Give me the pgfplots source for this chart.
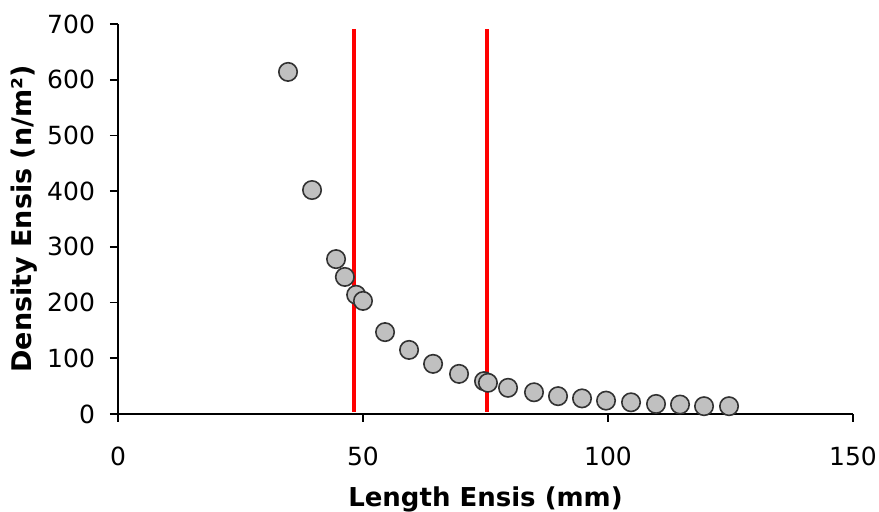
\documentclass[border=0pt]{standalone}
\usepackage{fontspec}
\setmainfont{DejaVu Sans}
\usepackage{pgfplots}
\pgfplotsset{compat=1.18}
\definecolor{markfill}{RGB}{192,192,192}
\definecolor{markdraw}{RGB}{50,50,50}
\begin{document}
\begin{tikzpicture}
\begin{axis}[
  scale only axis,
  width=367.5pt, height=195pt,
  xmin=0, xmax=150, ymin=0, ymax=700,
  axis x line=bottom, axis y line=left,
  axis line style={-, line width=0.8pt, black},
  xtick={0,50,100,150},
  ytick={0,100,200,300,400,500,600,700},
  tick align=outside,
  major tick length=4pt,
  tick style={line width=0.8pt, black},
  /pgf/number format/assume math mode=true,
  tick label style={font=\fontsize{12.5}{14}\selectfont},
  yticklabel style={xshift=-4pt},
  xticklabel style={yshift=-9pt},
  xlabel={\textbf{Length Ensis (mm)}},
  ylabel={\textbf{Density Ensis (n/m²)}},
  xlabel style={font=\fontsize{13}{15}\selectfont, yshift=-3.5pt},
  ylabel style={font=\fontsize{13.5}{15}\selectfont, yshift=-2pt},
  clip=false,
]
\coordinate (ll) at (rel axis cs:0,0);
\coordinate (ur) at (rel axis cs:1,1);
\addplot[only marks, mark=*, mark size=4.6pt,
  mark options={fill=markfill, draw=markdraw, line width=0.8pt}]
coordinates {
(34.7,614) (39.6,402) (44.5,278) (46.3,246) (48.6,214) (50.0,203)
(54.5,147) (59.4,115) (64.3,90) (69.6,72) (74.7,59) (75.5,56)
(79.6,47) (84.9,39) (89.8,32) (94.7,28) (99.6,24) (104.7,21)
(109.8,18) (114.7,17) (119.6,14) (124.7,14)
};
\addplot[red, line width=2pt, forget plot] coordinates {(48.2,4) (48.2,691)};
\addplot[red, line width=2pt, forget plot] coordinates {(75.3,4) (75.3,691)};
\end{axis}
\pgfresetboundingbox
\path ([shift={(-59pt,-49pt)}]ll) rectangle ([shift={(13pt,12pt)}]ur);
\end{tikzpicture}
\end{document}
